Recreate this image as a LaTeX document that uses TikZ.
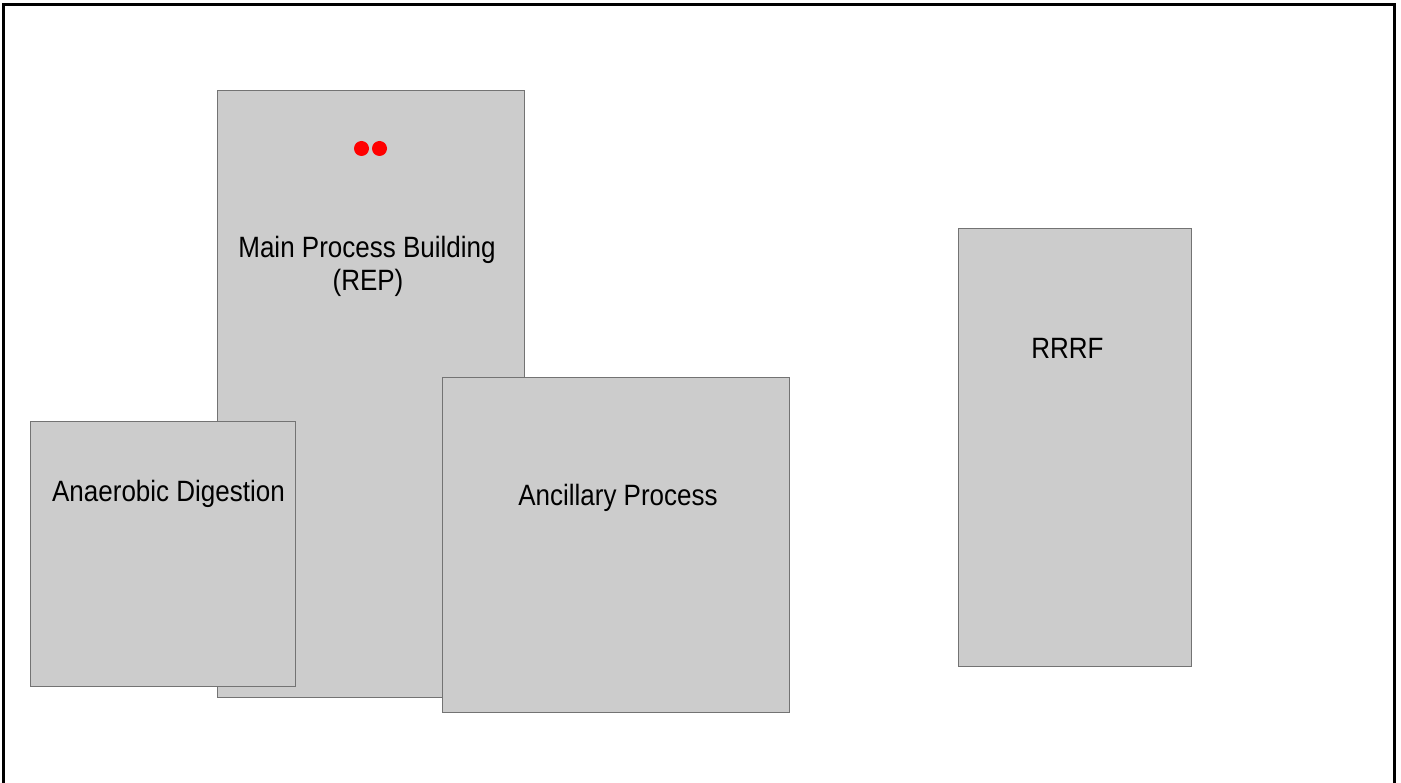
\documentclass[tikz,border=0pt]{standalone}
\usepackage{fontspec}
\setmainfont{Liberation Sans}
\usepackage{graphicx}
\begin{document}
\begin{tikzpicture}[x=1pt,y=-1pt,
  building/.style={draw=black!55,line width=0.9pt,fill=black!20},
  lbl/.style={anchor=base,inner sep=0pt,font=\fontsize{26}{30}\selectfont},
  reddot/.style={fill=red,draw=none}]
\useasboundingbox (0,0) rectangle (1401,783);
\fill[white] (0,0) rectangle (1401,783);
% frame
\draw[line width=3pt,black] (3.5,800) -- (3.5,4.5) -- (1394.5,4.5) -- (1394.5,800);
% buildings
\draw[building] (217,90) rectangle (524,697);
\coordinate (mainbox) at (370.5,393.5);
\draw[building] (30,421) rectangle (295,686);
\draw[building] (442,377) rectangle (789,712);
\draw[building] (958,228) rectangle (1191,666);
% red dots
\fill[reddot] (361.5,148.5) circle (7.5);
\fill[reddot] (379.5,148.5) circle (7.5);
% labels
\node[lbl] (mainA) at (367,258) {\scalebox{1}[1.13]{Main Process Building}};
\node[lbl] (mainB) at (368,291) {\scalebox{1}[1.13]{(REP)}};
\node[lbl] (ad) at (168.5,502) {\scalebox{1}[1.13]{Anaerobic Digestion}};
\node[lbl] (anc) at (618,505) {\scalebox{1}[1.13]{Ancillary Process}};
\node[lbl] (rrrf) at (1067.5,359) {\scalebox{1}[1.13]{RRRF}};
\end{tikzpicture}
\end{document}
